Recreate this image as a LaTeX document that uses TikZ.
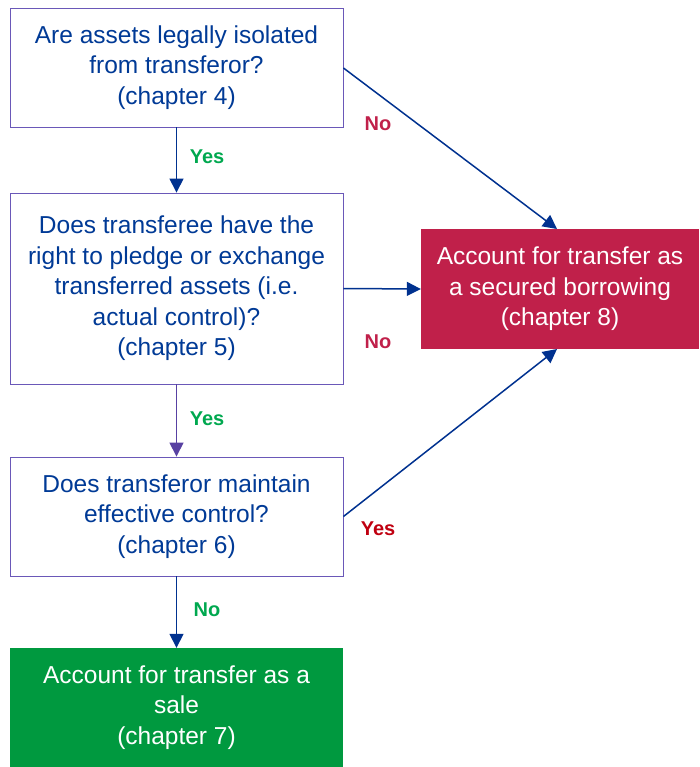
\documentclass[tikz,border=0pt]{standalone}
\usepackage{fontspec}
\setmainfont{Liberation Sans}
\usetikzlibrary{arrows.meta}
\definecolor{textblue}{HTML}{003A96}
\definecolor{framepurple}{HTML}{6A58B8}
\definecolor{arrowblue}{HTML}{00318F}
\definecolor{arrowpurple}{HTML}{5841A2}
\definecolor{borrowred}{HTML}{C0204A}
\definecolor{salegreen}{HTML}{00993F}
\definecolor{yesgreen}{HTML}{00A84F}
\definecolor{nored}{HTML}{C0204A}
\definecolor{yesred}{HTML}{C00010}
\begin{document}
\begin{tikzpicture}[x=1pt,y=-1pt,
  question/.style={draw=framepurple, line width=0.9pt, fill=white, text=textblue,
    minimum width=333pt, align=center, inner sep=0pt,
    font=\fontsize{24.5}{30.5}\selectfont},
  outcome/.style={draw=none, text=white, align=center, inner sep=0pt,
    font=\fontsize{24.5}{30.5}\selectfont},
  flow/.style={draw=arrowblue, line width=1.5pt, -{Triangle[length=14pt,width=14pt]}},
  lbl/.style={font=\fontsize{20}{24}\selectfont\bfseries}
]
\useasboundingbox (0,0) rectangle (700,767);

\node[question, minimum height=119pt] (q1) at (176.5,67.5)
  {Are assets legally isolated\\from transferor?\\(chapter 4)};
\node[question, minimum height=191pt] (q2) at (176.5,288.5)
  {Does transferee have the\\right to pledge or exchange\\transferred assets (i.e.\\actual control)?\\(chapter 5)};
\node[question, minimum height=119pt] (q3) at (176.5,516.5)
  {Does transferor maintain\\effective control?\\(chapter 6)};
\node[outcome, fill=salegreen, minimum width=333pt, minimum height=119pt] (sale) at (176.5,707.5)
  {Account for transfer as a\\sale\\(chapter 7)};
\node[outcome, fill=borrowred, minimum width=278pt, minimum height=120pt] (borrow) at (560,289)
  {Account for transfer as\\a secured borrowing\\(chapter 8)};

\coordinate (bTopIn) at (557,229);
\coordinate (bBotIn) at (557,349);

% vertical flow
\draw[flow] (q1.south) -- (q2.north);
\draw[flow, draw=arrowpurple, -{Triangle[length=14pt,width=14pt,fill=arrowpurple]}] (q2.south) -- (q3.north);
\draw[flow] (q3.south) -- (sale.north);

% branches to secured borrowing
\draw[flow] (q1.east |- 0,68) -- (bTopIn);
\draw[flow] (q2.east) -- (borrow.west);
\draw[flow] (q3.east) -- (bBotIn);

% branch labels
\node[lbl, text=yesgreen] (y1) at (207,157) {Yes};
\node[lbl, text=yesgreen] (y2) at (207,419) {Yes};
\node[lbl, text=yesgreen] (n3) at (207,610) {No};
\node[lbl, text=nored] (n1) at (378,124) {No};
\node[lbl, text=nored] (n2) at (378,342) {No};
\node[lbl, text=yesred] (y3) at (378,529) {Yes};
\end{tikzpicture}
\end{document}
